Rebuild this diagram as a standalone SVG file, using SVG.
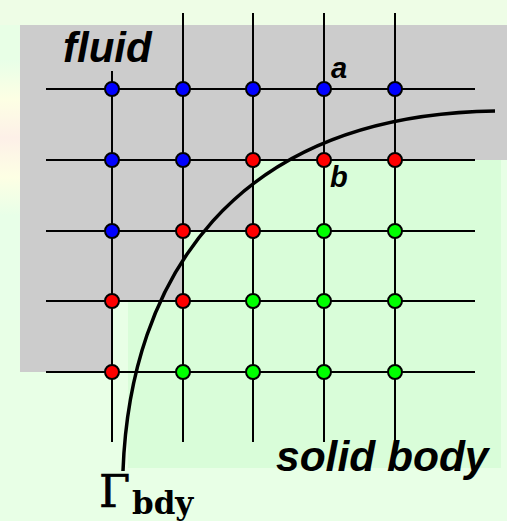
<svg xmlns="http://www.w3.org/2000/svg" width="507" height="521" viewBox="0 0 507 521">
<defs>
<linearGradient id="leftTint" x1="0" y1="0" x2="0" y2="1">
<stop offset="0" stop-color="#e8ffe8"/>
<stop offset="0.15" stop-color="#fdffe4"/>
<stop offset="0.3" stop-color="#fdf0e8"/>
<stop offset="0.45" stop-color="#fdffe4"/>
<stop offset="0.6" stop-color="#e8ffe8"/>
<stop offset="1" stop-color="#e8ffe8"/>
</linearGradient>
<style>
.grid line{stroke:#000;stroke-width:2}
.n{stroke:#000;stroke-width:2}
.b{fill:#0000ff}.r{fill:#ff0000}.g{fill:#00ff00}
.lbl{font-family:"Liberation Sans",Arial,sans-serif;font-weight:bold;font-style:italic;fill:#000}
</style>
</defs>
<rect x="0" y="0" width="507" height="521" fill="#e8ffe6"/>
<rect x="0" y="60" width="20" height="260" fill="url(#leftTint)"/>
<rect x="0" y="0" width="507" height="25" fill="#eefde6"/>
<rect x="128" y="25" width="373" height="443" fill="#d9fdd9"/>
<polygon points="20,25 507,25 507,160 253,160 253,231 183,231 183,301 112,301 112,372 20,372" fill="#cccccc"/>
<g id="connectors" class="grid">
<line x1="46" y1="89" x2="475" y2="89"/>
<line x1="46" y1="160" x2="475" y2="160"/>
<line x1="46" y1="231" x2="475" y2="231"/>
<line x1="46" y1="301" x2="475" y2="301"/>
<line x1="46" y1="372" x2="475" y2="372"/>
<line x1="112" y1="71" x2="112" y2="442"/>
<line x1="183" y1="13" x2="183" y2="442"/>
<line x1="253" y1="13" x2="253" y2="442"/>
<line x1="324" y1="13" x2="324" y2="442"/>
<line x1="395" y1="13" x2="395" y2="442"/>
</g>
<g id="boundary">
<path d="M123,471 C130,280 232,115 495,111" fill="none" stroke="#000" stroke-width="3.5"/>
</g>
<g id="nodes">
<g id="row1">
<circle class="n b" cx="112" cy="89" r="7"/><circle class="n b" cx="183" cy="89" r="7"/><circle class="n b" cx="253" cy="89" r="7"/><circle class="n b" cx="324" cy="89" r="7"/><circle class="n b" cx="395" cy="89" r="7"/>
</g>
<g id="row2">
<circle class="n b" cx="112" cy="160" r="7"/><circle class="n b" cx="183" cy="160" r="7"/><circle class="n r" cx="253" cy="160" r="7"/><circle class="n r" cx="324" cy="160" r="7"/><circle class="n r" cx="395" cy="160" r="7"/>
</g>
<g id="row3">
<circle class="n b" cx="112" cy="231" r="7"/><circle class="n r" cx="183" cy="231" r="7"/><circle class="n r" cx="253" cy="231" r="7"/><circle class="n g" cx="324" cy="231" r="7"/><circle class="n g" cx="395" cy="231" r="7"/>
</g>
<g id="row4">
<circle class="n r" cx="112" cy="301" r="7"/><circle class="n r" cx="183" cy="301" r="7"/><circle class="n g" cx="253" cy="301" r="7"/><circle class="n g" cx="324" cy="301" r="7"/><circle class="n g" cx="395" cy="301" r="7"/>
</g>
<g id="row5">
<circle class="n r" cx="112" cy="372" r="7"/><circle class="n g" cx="183" cy="372" r="7"/><circle class="n g" cx="253" cy="372" r="7"/><circle class="n g" cx="324" cy="372" r="7"/><circle class="n g" cx="395" cy="372" r="7"/>
</g>
</g>
<g id="labels">
<text class="lbl" x="63" y="62" font-size="42">fluid</text>
<text class="lbl" x="331" y="78" font-size="29">a</text>
<text class="lbl" x="330" y="187" font-size="29">b</text>
<text class="lbl" x="276" y="471" font-size="42.5">solid body</text>
<text x="99" y="507" font-family="'DejaVu Serif',serif" font-size="45" fill="#000" stroke="#000" stroke-width="0.6">Γ</text>
<text x="132" y="514" font-family="'DejaVu Serif',serif" font-weight="bold" font-size="31" fill="#000">bdy</text>
</g>
</svg>
